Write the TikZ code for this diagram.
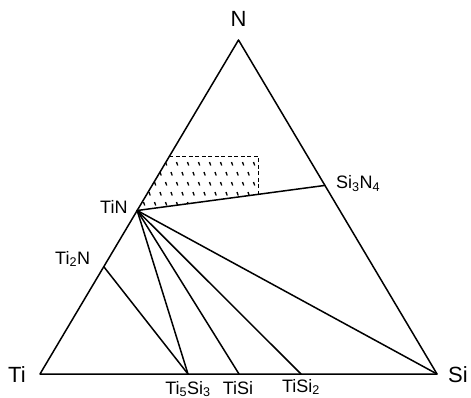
\documentclass[tikz,border=0pt]{standalone}
\usepackage{fontspec}
\setmainfont{Liberation Sans}
\usetikzlibrary{calc}
\tikzset{
  edge/.style={line width=1.5pt, line cap=round, line join=round},
  dashedge/.style={line width=1.4pt, dash pattern=on 4pt off 2.5pt},
  tick/.style={line width=1.3pt},
  biglabel/.style={font=\fontsize{22}{26}\selectfont, inner sep=0pt},
  smalllabel/.style={font=\fontsize{18}{21}\selectfont, inner sep=0pt},
}
\begin{document}
\begin{tikzpicture}[x=1pt,y=-1pt]
\useasboundingbox (0,0) rectangle (471,398);
% corners
\coordinate (Ti) at (40,374);
\coordinate (Si) at (437,374);
\coordinate (N) at (238.5,40);
% points on edges
\coordinate (TiN) at ($(Ti)!0.4895!(N)$);
\coordinate (TiTwoN) at ($(Ti)!0.3213!(N)$);
\coordinate (TL) at ($(Ti)!0.6517!(N)$);
\coordinate (SiN) at ($(Si)!0.5646!(N)$);
\coordinate (TFS) at (188,374);
\coordinate (TS) at (239,374);
\coordinate (TSTwo) at (301,374);
\coordinate (BR) at ($(TiN)!0.6446!(SiN)$);
\coordinate (TR) at (BR |- TL);
% hatching
\begin{scope}
  \clip (TiN) -- (TL) -- (TR) -- (BR) -- cycle;
  \foreach \r in {0,...,6}{
    \foreach \c in {0,...,12}{
      \pgfmathsetmacro\xx{138+\c*11+mod(\r,2)*5.5}
      \pgfmathsetmacro\yy{152+\r*10}
      \draw[tick] (\xx,\yy) -- ++(1.2,3.5);
    }
  }
\end{scope}
\draw[dashedge] (TL) -- (TR) -- (BR);
% triangle
\draw[edge] (Ti) -- (Si) -- (N) -- cycle;
% tie lines
\draw[edge] (TiN) -- (SiN);
\draw[edge] (TiN) -- (TFS);
\draw[edge] (TiN) -- (TS);
\draw[edge] (TiN) -- (TSTwo);
\draw[edge] (TiN) -- (Si);
\draw[edge] (TiTwoN) -- (TFS);
% labels
\node[biglabel] (lN) at (238.5,19) {N};
\node[biglabel, anchor=base west] (lTi) at (8,382) {Ti};
\node[biglabel, anchor=base west] (lSi) at (448,382) {Si};
\node[smalllabel, anchor=base west] (lTiN) at (100,214) {TiN};
\node[smalllabel, anchor=base west] (lTiTwoN) at (55,264) {Ti\textsubscript{2}N};
\node[smalllabel, anchor=base west] (lSiN) at (336,189) {Si\textsubscript{3}N\textsubscript{4}};
\node[smalllabel, anchor=base] (lTFS) at (188,394) {Ti\textsubscript{5}Si\textsubscript{3}};
\node[smalllabel, anchor=base] (lTS) at (238,394) {TiSi};
\node[smalllabel, anchor=base] (lTSTwo) at (301,392) {TiSi\textsubscript{2}};
\end{tikzpicture}
\end{document}
